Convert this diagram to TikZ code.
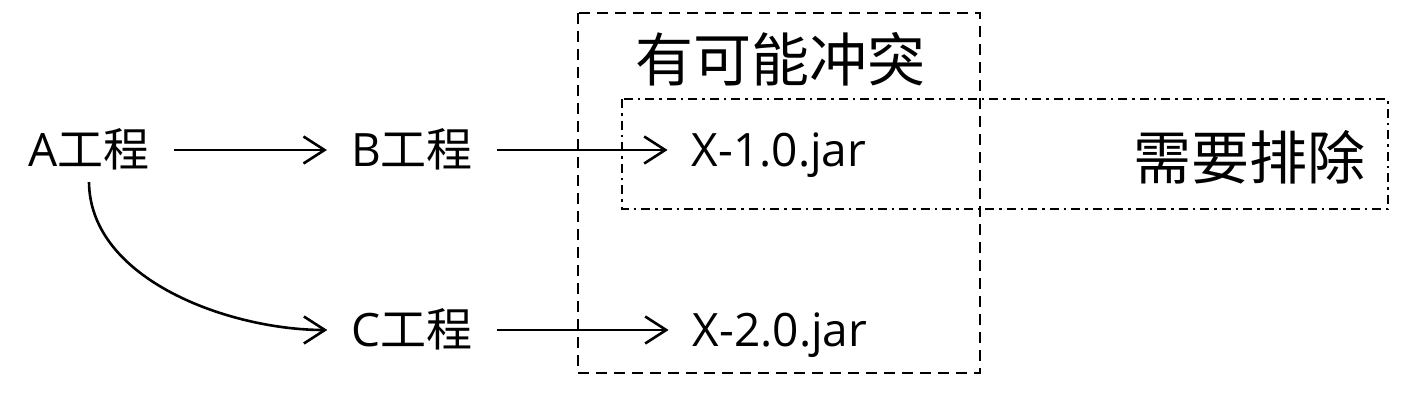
\documentclass[tikz,border=0pt]{standalone}
\usepackage{fontspec}
\setmainfont{Open Sans}
\newfontfamily\cjk{Noto Sans CJK SC}
\usetikzlibrary{arrows.meta}
\begin{document}
\begin{tikzpicture}[x=1pt,y=-1pt,
  lbl/.style={font=\fontsize{46}{52}\selectfont, inner xsep=24pt, inner ysep=10pt, text height=38pt, text depth=6pt},
  big/.style={font=\cjk\fontsize{58}{64}\selectfont, inner sep=0pt},
  arr/.style={line width=2.6pt, -{Straight Barb[length=21pt,width=27pt]}},
  conflictbox/.style={line width=2.6pt, dash pattern=on 11pt off 7pt},
  excludebox/.style={line width=2.6pt, dash pattern=on 9pt off 5pt on 2.5pt off 5pt}]
\useasboundingbox (0,0) rectangle (1418,412);
\node[lbl] (A) at (89,150) {A{\cjk 工程}};
\node[lbl] (B) at (412,150) {B{\cjk 工程}};
\node[lbl] (C) at (412,330) {C{\cjk 工程}};
\node[lbl] (X1) at (779,150) {X-1.0.jar};
\node[lbl] (X2) at (780,330) {X-2.0.jar};
\node[big] (conf) at (780,59) {有可能冲突};
\node[big] (excl) at (1249,157) {需要排除};
\draw[conflictbox] (578,13) rectangle (980,373);
\draw[excludebox] (622,99) rectangle (1388,209);
\draw[arr] (A) -- (B);
\draw[arr] (B) -- (X1);
\draw[arr] (C) -- (X2);
\draw[arr] (A.south) .. controls (90,280) and (230,330) .. (C.west);
\end{tikzpicture}
\end{document}
